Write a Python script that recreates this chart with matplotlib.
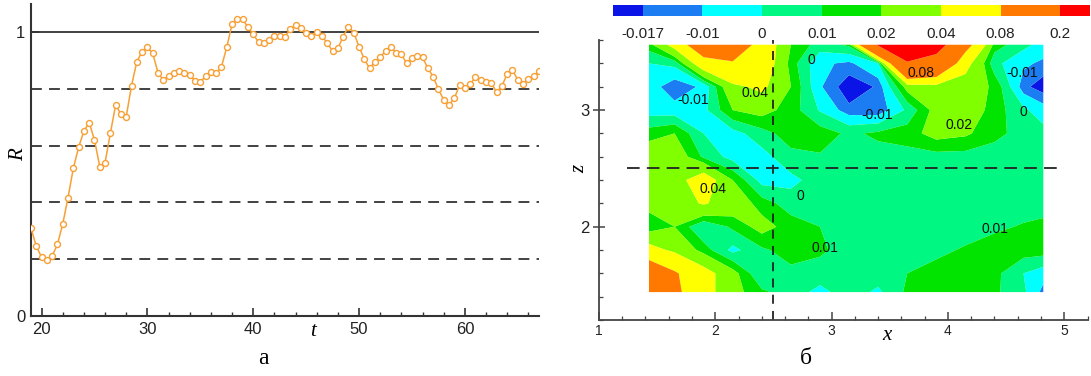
import numpy as np
import matplotlib.pyplot as plt
from matplotlib.ticker import MultipleLocator

plt.rcParams['font.family'] = ['Liberation Sans', 'DejaVu Sans']
SERIF = ['Liberation Serif', 'DejaVu Serif']

# ---- panel a: R(t) ----
t = np.arange(19, 67.5, 0.5)
R = [0.309, 0.246, 0.207, 0.196, 0.211, 0.252, 0.324, 0.417, 0.520, 0.594,
     0.651, 0.681, 0.620, 0.526, 0.540, 0.643, 0.743, 0.711, 0.702, 0.811,
     0.895, 0.931, 0.946, 0.925, 0.857, 0.831, 0.846, 0.857, 0.863, 0.857,
     0.847, 0.829, 0.824, 0.844, 0.860, 0.854, 0.878, 0.946, 1.028, 1.046,
     1.045, 1.017, 0.992, 0.964, 0.962, 0.973, 0.987, 0.987, 0.984, 1.009,
     1.025, 1.013, 0.995, 0.986, 1.000, 0.986, 0.960, 0.933, 0.942, 0.984,
     1.019, 0.998, 0.948, 0.904, 0.872, 0.896, 0.911, 0.933, 0.946, 0.927,
     0.921, 0.890, 0.907, 0.915, 0.911, 0.872, 0.843, 0.798, 0.761, 0.743,
     0.766, 0.813, 0.804, 0.817, 0.840, 0.831, 0.824, 0.820, 0.788, 0.810,
     0.852, 0.866, 0.831, 0.816, 0.836, 0.844, 0.864]
R_ref = 1.0
R_dashed = [0.2, 0.4, 0.6, 0.8]

# ---- panel b: flood contour of the field on (x, z) ----
x_grid = [1.43, 1.65, 1.9, 2.15, 2.4, 2.65, 2.9, 3.15, 3.4, 3.65, 3.9, 4.15, 4.4, 4.65, 4.82]
z_grid = [1.44, 1.6, 1.8, 2.0, 2.2, 2.4, 2.6, 2.8, 3.0, 3.2, 3.4, 3.56]
field = [
    [0.120, 0.090, 0.050, 0.025, 0.012, 0.005, -0.003, 0.005, -0.002, 0.012, 0.015, 0.013, 0.012, 0.002, -0.013],
    [0.120, 0.085, 0.050, 0.025, 0.000, 0.007, 0.005, 0.005, 0.005, 0.010, 0.013, 0.015, 0.013, 0.000, -0.006],
    [0.050, 0.035, 0.015, -0.003, 0.008, 0.015, 0.012, 0.005, 0.005, 0.005, 0.008, 0.011, 0.015, 0.015, 0.015],
    [0.012, 0.020, 0.000, 0.012, 0.025, 0.015, 0.010, 0.005, 0.005, 0.005, 0.005, 0.006, 0.008, 0.011, 0.013],
    [0.025, 0.030, 0.042, 0.030, 0.015, 0.005, 0.005, 0.005, 0.005, 0.005, 0.005, 0.005, 0.005, 0.005, 0.005],
    [0.025, 0.030, 0.055, 0.020, -0.004, -0.003, 0.005, 0.005, 0.005, 0.005, 0.005, 0.005, 0.005, 0.005, 0.005],
    [0.030, 0.030, 0.008, -0.004, -0.004, 0.007, 0.009, 0.006, 0.006, 0.006, 0.006, 0.006, 0.005, 0.005, 0.005],
    [0.015, 0.020, 0.000, -0.004, 0.006, 0.015, 0.015, 0.008, 0.012, 0.015, 0.025, 0.022, 0.013, 0.006, 0.004],
    [-0.005, -0.006, -0.003, 0.020, 0.025, 0.015, -0.001, -0.015, -0.016, 0.002, 0.025, 0.030, 0.015, 0.002, -0.006],
    [-0.005, -0.016, -0.008, 0.035, 0.045, 0.020, -0.009, -0.022, -0.016, 0.025, 0.030, 0.028, 0.018, -0.015, -0.021],
    [0.000, 0.003, 0.060, 0.075, 0.060, 0.015, -0.008, -0.012, 0.000, 0.190, 0.150, 0.050, 0.003, -0.008, -0.012],
    [0.015, 0.050, 0.120, 0.120, 0.060, 0.020, 0.005, 0.012, 0.210, 0.300, 0.250, 0.100, 0.015, 0.003, -0.004],
]
levels = [-0.017, -0.01, 0, 0.01, 0.02, 0.04, 0.08, 0.2]
level_labels = ['-0.017', '-0.01', '0', '0.01', '0.02', '0.04', '0.08', '0.2']
flood_colors = ['#0a14e6', '#1c7cf2', '#00ffff', '#00f782', '#00e400',
                '#80ff00', '#ffff00', '#ff7800', '#ff0000']
contour_text = [('-0.01', 1.81, 3.09), ('0.04', 2.34, 3.15), ('0', 2.83, 3.43),
                ('-0.01', 3.39, 2.96), ('0.08', 3.77, 3.32), ('-0.01', 4.64, 3.32),
                ('0.02', 4.10, 2.87), ('0', 4.65, 2.98), ('0.04', 1.98, 2.32),
                ('0', 2.73, 2.26), ('0.01', 2.94, 1.82), ('0.01', 4.40, 1.98)]
x_cut = 2.5
z_cut = 2.5

fig = plt.figure(figsize=(10.91, 3.76), dpi=100)

# panel a
ax1 = fig.add_axes([0.0284, 0.1596, 0.4656, 0.8309])
ax1.axhline(R_ref, color='#333333', lw=1.3, zorder=1)
for r in R_dashed:
    ax1.axhline(r, color='#333333', lw=1.3, ls=(0, (6, 4)), zorder=1)
ax1.plot(t, R, color='#f7a035', lw=1.1, marker='o', ms=4.3,
         mfc='white', mec='#f7a035', mew=1.0, zorder=3)
ax1.set_xlim(19, 67)
ax1.set_ylim(0, 1.1)
ax1.set_xticks([20, 30, 40, 50, 60])
ax1.xaxis.set_minor_locator(MultipleLocator(2))
ax1.set_yticks([0, 1])
for s in ['top', 'right']:
    ax1.spines[s].set_visible(False)
for s in ['left', 'bottom']:
    ax1.spines[s].set_color('#333333')
    ax1.spines[s].set_linewidth(1.5)
ax1.tick_params(direction='in', length=6, width=1.2, labelsize=12,
                color='#333333', labelcolor='#222222', pad=4)
ax1.tick_params(which='minor', direction='in', length=3, width=1.0, color='#333333')
ax1.set_ylabel('R', family=SERIF, style='italic', fontsize=15)
ax1.yaxis.set_label_coords(-0.006, 0.515)
ax1.set_xlabel('t', family=SERIF, style='italic', fontsize=15)
ax1.xaxis.set_label_coords(0.555, -0.02)

# panel b
ax2 = fig.add_axes([0.549, 0.1487, 0.4478, 0.7447])
X, Z = np.meshgrid(x_grid, z_grid)
cf = ax2.contourf(X, Z, np.array(field), levels=levels, colors=flood_colors,
                  extend='both', antialiased=True)
for txt, xx, zz in contour_text:
    ax2.text(xx, zz, txt, fontsize=10, ha='center', va='center', color='#111111')
ax2.axvline(x_cut, color='#222222', lw=1.3, ls=(0, (5, 4)))
ax2.hlines(z_cut, 1.24, 4.95, color='#222222', lw=1.3, ls=(0, (7, 4)))
ax2.set_xlim(1, 5.2)
ax2.set_ylim(1.2, 3.6)
ax2.set_xticks([1, 2, 3, 4, 5])
ax2.set_yticks([2, 3])
ax2.xaxis.set_minor_locator(MultipleLocator(0.2))
ax2.yaxis.set_minor_locator(MultipleLocator(0.2))
for s in ['top', 'right']:
    ax2.spines[s].set_visible(False)
for s in ['left', 'bottom']:
    ax2.spines[s].set_color('#444444')
    ax2.spines[s].set_linewidth(1.3)
ax2.tick_params(axis='x', direction='in', length=6, width=1.1, labelsize=10,
                color='#444444', labelcolor='#222222', pad=3)
ax2.tick_params(axis='y', direction='inout', length=8, width=1.1, labelsize=12,
                color='#444444', labelcolor='#222222', pad=3)
ax2.tick_params(which='minor', direction='in', length=3, width=0.9, color='#444444')
ax2.set_xlabel('x', family=SERIF, style='italic', fontsize=15)
ax2.xaxis.set_label_coords(0.59, -0.02)
ax2.set_ylabel('z', family=SERIF, style='italic', fontsize=15)
ax2.yaxis.set_label_coords(-0.02, 0.54)

# colour legend on top
cax = fig.add_axes([0.5619, 0.9574, 0.4372, 0.0293])
cb = fig.colorbar(cf, cax=cax, orientation='horizontal', extendrect=True,
                  extendfrac=0.0714, ticks=levels)
cb.set_ticklabels(level_labels)
cb.outline.set_visible(False)
cax.tick_params(length=0, labelsize=11, pad=8, labelcolor='#222222')

# panel letters
fig.text(263 / 1091, 1 - 358 / 376, 'а', family=SERIF, fontsize=17, ha='center', va='center')
fig.text(806 / 1091, 1 - 358 / 376, 'б', family=SERIF, fontsize=17, ha='center', va='center')

fig.savefig('out.png', dpi=100)
